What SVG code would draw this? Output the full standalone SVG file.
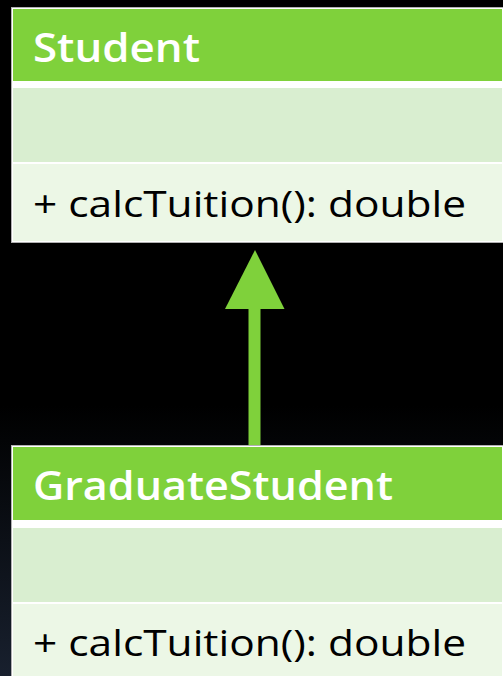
<svg xmlns="http://www.w3.org/2000/svg" width="503" height="676" viewBox="0 0 503 676">
<defs>
<linearGradient id="bg" x1="0" y1="0" x2="0" y2="1">
<stop offset="0" stop-color="#000"/>
<stop offset="0.6" stop-color="#000"/>
<stop offset="1" stop-color="#18202e"/>
</linearGradient>
<style>
.frame{fill:#ffffff;stroke:#b0b0b0;stroke-width:1}
.head{fill:#7fd13b}
.attr{fill:#d9eed0}
.meth{fill:#ecf7e6}
.title{font-family:"Open Sans","Noto Sans",sans-serif;font-weight:600;font-size:40px;fill:#ffffff}
.op{font-family:"Open Sans","Noto Sans",sans-serif;font-size:37px;fill:#000000}
</style>
</defs>
<rect x="0" y="0" width="503" height="676" fill="url(#bg)"/>
<g id="connectors">
<rect x="248.5" y="306" width="12" height="139" fill="#7fd13b"/>
<polygon points="255,250 284.5,309 225,309" fill="#7fd13b"/>
</g>
<g id="Student">
<rect class="frame" x="11.5" y="7.5" width="492" height="235"/>
<rect class="head" x="13" y="9" width="489" height="72"/>
<rect class="attr" x="13" y="88" width="489" height="74"/>
<rect class="meth" x="13" y="164" width="489" height="77"/>
<text class="title" x="33" y="62" textLength="167" lengthAdjust="spacingAndGlyphs">Student</text>
<text class="op" x="33" y="217" textLength="433" lengthAdjust="spacingAndGlyphs">+ calcTuition(): double</text>
</g>
<g id="GraduateStudent">
<rect class="frame" x="11.5" y="445.5" width="492" height="235"/>
<rect class="head" x="13" y="447" width="489" height="73"/>
<rect class="attr" x="13" y="528" width="489" height="74"/>
<rect class="meth" x="13" y="604" width="489" height="72"/>
<text class="title" x="33" y="500" textLength="360" lengthAdjust="spacingAndGlyphs">GraduateStudent</text>
<text class="op" x="33" y="656" textLength="433" lengthAdjust="spacingAndGlyphs">+ calcTuition(): double</text>
</g>
</svg>
